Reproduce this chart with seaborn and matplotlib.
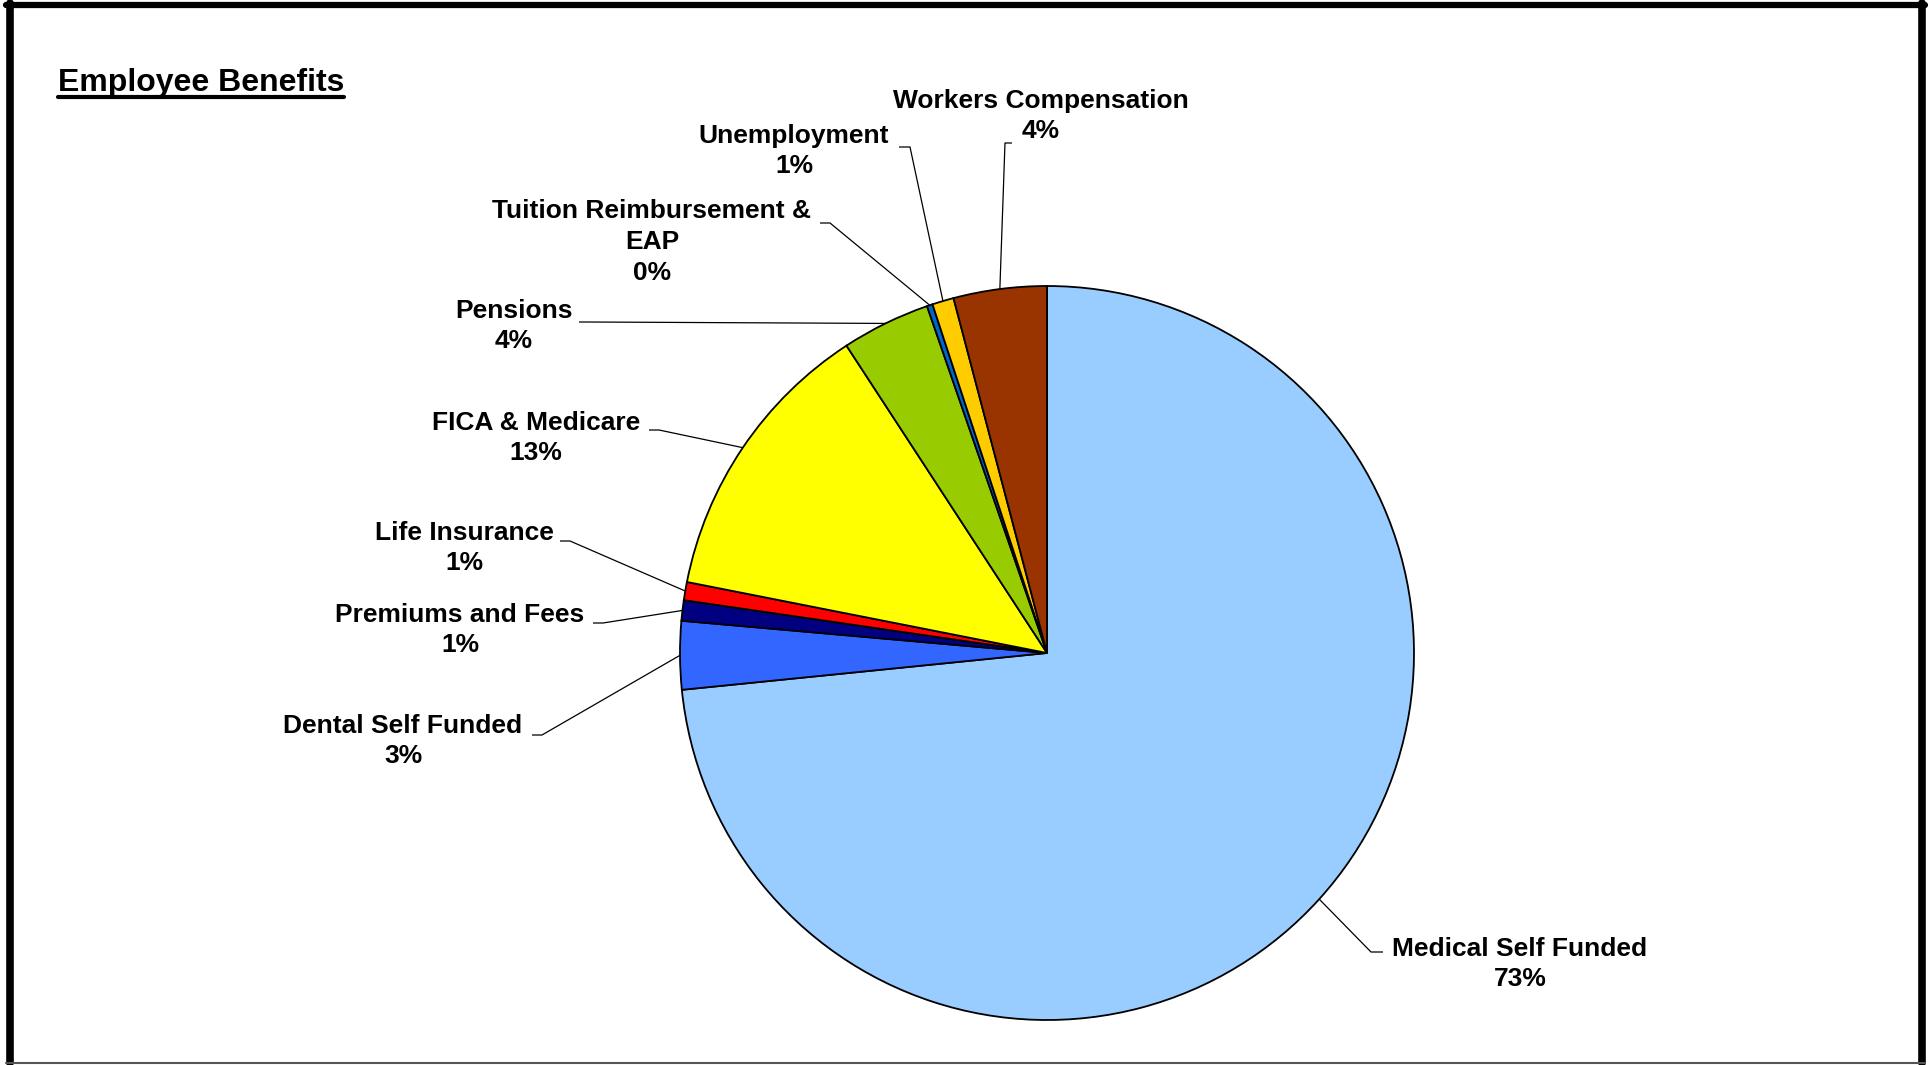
import matplotlib
matplotlib.use("Agg")
import matplotlib.pyplot as plt
import seaborn as sns
import numpy as np
from matplotlib.lines import Line2D

# data
categories = ["Medical Self Funded", "Dental Self Funded", "Premiums and Fees", "Life Insurance",
              "FICA & Medicare", "Pensions", "Tuition Reimbursement &\nEAP", "Unemployment",
              "Workers Compensation"]
shares = [73.4, 3.0, 0.9, 0.8, 12.7, 3.9, 0.25, 0.95, 4.1]
colors = ["#99CCFF", "#3366FF", "#000080", "#FF0000", "#FFFF00", "#99CC00", "#0066CC", "#FFCC00", "#993300"]
title = "Employee Benefits"

# layout in pixels (y down)
W, H = 1931, 1065
center_px = (1047, 653)
radius_px = 367
label_pos = [(1520, 964), (403, 741), (460, 630), (464, 548), (536, 438),
             (514, 326), (652, 242), (794, 151), (1041, 116)]
leader_elbow = [(1371, 952), (542, 735), (603, 623), (570, 541), (659, 430),
                (586, 322), (830, 223), (910, 147), (1005, 143)]
leader_end = [(1383, 952), (532, 735), (593, 623), (560, 541), (649, 430),
              (579, 322), (820, 223), (899, 147), (1012, 143)]

sns.set_theme(style="white")
plt.rcParams['font.family'] = ['Liberation Sans', 'DejaVu Sans']

fig = plt.figure(figsize=(W / 100, H / 100), dpi=100)
ax = fig.add_axes([0, 0, 1, 1])

def fy(y):
    return H - y

wedges, _ = ax.pie(shares, colors=colors, startangle=90, counterclock=False,
                   center=(center_px[0], fy(center_px[1])), radius=radius_px,
                   wedgeprops=dict(edgecolor="black", linewidth=1.3))
ax.set_xlim(0, W)
ax.set_ylim(0, H)
ax.set_aspect("equal")
ax.axis("off")

total = sum(shares)
cx, cy = center_px[0], fy(center_px[1])
for i, w in enumerate(wedges):
    mid = np.deg2rad((w.theta1 + w.theta2) / 2)
    px = cx + radius_px * np.cos(mid)
    py = cy + radius_px * np.sin(mid)
    ex, ey = leader_elbow[i]
    tx, ty = leader_end[i]
    ax.plot([px, ex, tx], [py, fy(ey), fy(ty)], color="black", lw=0.9, solid_capstyle="butt")
    lx, ly = label_pos[i]
    ax.text(lx, fy(ly), f"{categories[i]}\n{shares[i] / total * 100:.0f}%",
            ha="center", va="center", fontsize=19, fontweight="bold", linespacing=1.35,
            multialignment="center", color="black")

# title with underline
t = ax.text(58, fy(91), title, ha="left", va="baseline", fontsize=23, fontweight="bold", color="black")
fig.canvas.draw()
bb = t.get_window_extent(renderer=fig.canvas.get_renderer())
fig.add_artist(Line2D([bb.x0 / W, bb.x1 / W], [fy(97) / H, fy(97) / H], color="black", lw=3))

# outer frame
fig.add_artist(Line2D([9.5 / W, 9.5 / W], [fy(3) / H, fy(1063) / H], color="black", lw=5.5))
fig.add_artist(Line2D([6 / W, 1925 / W], [fy(5) / H, fy(5) / H], color="black", lw=4.5))
fig.add_artist(Line2D([1922 / W, 1922 / W], [fy(3) / H, fy(1063) / H], color="black", lw=5.5))
fig.add_artist(Line2D([6 / W, 1925 / W], [fy(1063) / H, fy(1063) / H], color="#555555", lw=1.5))

fig.savefig("out.png", dpi=100, facecolor="white")
